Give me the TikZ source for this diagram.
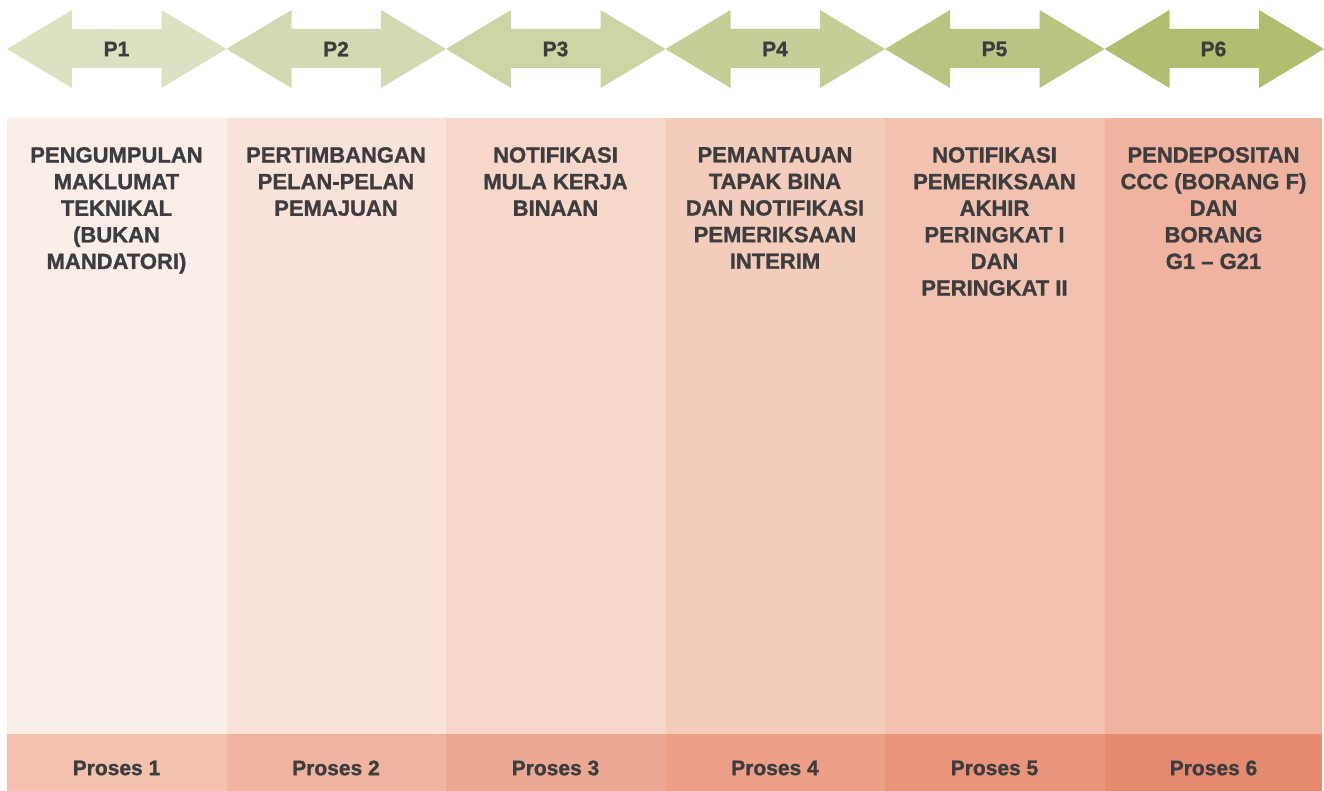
\documentclass[tikz,border=0pt]{standalone}
\usepackage{fontspec}
\setmainfont{Liberation Sans}[BoldFeatures={FakeBold=1.2}]
\usepackage{xcolor}
\usepackage{tikz}
\usetikzlibrary{positioning}
\pgfdeclarelayer{fill}
\pgfsetlayers{fill,main}

\definecolor{ink}{HTML}{3D3D40}
\definecolor{arrA}{HTML}{DDE0C1}
\definecolor{arrB}{HTML}{D3DAB1}
\definecolor{arrC}{HTML}{CAD5A3}
\definecolor{arrD}{HTML}{C2CF97}
\definecolor{arrE}{HTML}{B8C581}
\definecolor{arrF}{HTML}{B0BF6F}
\definecolor{colA}{HTML}{FAEEE8}
\definecolor{colB}{HTML}{F9E2D9}
\definecolor{colC}{HTML}{F7D7CA}
\definecolor{colD}{HTML}{F4CCBB}
\definecolor{colE}{HTML}{F2C1B0}
\definecolor{colF}{HTML}{F0B39F}
\definecolor{barA}{HTML}{F2C2AF}
\definecolor{barB}{HTML}{F0B3A0}
\definecolor{barC}{HTML}{EBA892}
\definecolor{barD}{HTML}{ED9F87}
\definecolor{barE}{HTML}{EA957B}
\definecolor{barF}{HTML}{E68A6F}

\tikzset{
  tag/.style={text=ink, inner sep=0pt, font=\fontsize{21}{25}\selectfont\bfseries},
  body/.style={text=ink, inner sep=0pt, anchor=north, align=center,
    font=\fontsize{22}{26.6}\selectfont\bfseries},
}

\begin{document}
\begin{tikzpicture}[x=1pt, y=-1pt]
  \useasboundingbox (0, 0) rectangle (1324, 791);
  \begin{pgfonlayer}{fill}
    % arrows
    \fill [arrA] (7, 49) -- (72, 10) -- (72, 29) -- (161.5, 29) -- (161.5, 10) -- (226.5, 49) -- (161.5, 88) -- (161.5, 68) -- (72, 68) -- (72, 88) -- cycle;
    \fill [arrB] (226.5, 49) -- (291.5, 10) -- (291.5, 29) -- (381, 29) -- (381, 10) -- (446, 49) -- (381, 88) -- (381, 68) -- (291.5, 68) -- (291.5, 88) -- cycle;
    \fill [arrC] (446, 49) -- (511, 10) -- (511, 29) -- (600.5, 29) -- (600.5, 10) -- (665.5, 49) -- (600.5, 88) -- (600.5, 68) -- (511, 68) -- (511, 88) -- cycle;
    \fill [arrD] (665.5, 49) -- (730.5, 10) -- (730.5, 29) -- (820, 29) -- (820, 10) -- (885, 49) -- (820, 88) -- (820, 68) -- (730.5, 68) -- (730.5, 88) -- cycle;
    \fill [arrE] (885, 49) -- (950, 10) -- (950, 29) -- (1039.5, 29) -- (1039.5, 10) -- (1104.5, 49) -- (1039.5, 88) -- (1039.5, 68) -- (950, 68) -- (950, 88) -- cycle;
    \fill [arrF] (1104.5, 49) -- (1169.5, 10) -- (1169.5, 29) -- (1259, 29) -- (1259, 10) -- (1324, 49) -- (1259, 88) -- (1259, 68) -- (1169.5, 68) -- (1169.5, 88) -- cycle;
    % columns
    \fill [colA] (7, 118) rectangle (226.5, 734);
    \fill [colB] (226.5, 118) rectangle (446, 734);
    \fill [colC] (446, 118) rectangle (665.5, 734);
    \fill [colD] (665.5, 118) rectangle (885, 734);
    \fill [colE] (885, 118) rectangle (1104.5, 734);
    \fill [colF] (1104.5, 118) rectangle (1322, 734);
    % bottom bar
    \fill [barA] (7, 734) rectangle (226.5, 791);
    \fill [barB] (226.5, 734) rectangle (446, 791);
    \fill [barC] (446, 734) rectangle (665.5, 791);
    \fill [barD] (665.5, 734) rectangle (885, 791);
    \fill [barE] (885, 734) rectangle (1104.5, 791);
    \fill [barF] (1104.5, 734) rectangle (1322, 791);
  \end{pgfonlayer}

  \node [tag] (p1) at (116.5, 49) {P1};
  \node [tag] (p2) at (336, 49) {P2};
  \node [tag] (p3) at (555.5, 49) {P3};
  \node [tag] (p4) at (775, 49) {P4};
  \node [tag] (p5) at (994.5, 49) {P5};
  \node [tag] (p6) at (1213.5, 49) {P6};

  \node [body] (t1) at (116.5, 147) {PENGUMPULAN\\MAKLUMAT\\TEKNIKAL\\(BUKAN\\MANDATORI)};
  \node [body] (t2) at (336, 147) {PERTIMBANGAN\\PELAN-PELAN\\PEMAJUAN};
  \node [body] (t3) at (555.5, 147) {NOTIFIKASI\\MULA KERJA\\BINAAN};
  \node [body] (t4) at (775, 147) {PEMANTAUAN\\TAPAK BINA\\DAN NOTIFIKASI\\PEMERIKSAAN\\INTERIM};
  \node [body] (t5) at (994.5, 147) {NOTIFIKASI\\PEMERIKSAAN\\AKHIR\\PERINGKAT I\\DAN\\PERINGKAT II};
  \node [body] (t6) at (1213.5, 147) {PENDEPOSITAN\\CCC (BORANG F)\\DAN\\BORANG\\G1 -- G21};

  \node [tag] (s1) at (116.5, 768) {Proses 1};
  \node [tag] (s2) at (336, 768) {Proses 2};
  \node [tag] (s3) at (555.5, 768) {Proses 3};
  \node [tag] (s4) at (775, 768) {Proses 4};
  \node [tag] (s5) at (994.5, 768) {Proses 5};
  \node [tag] (s6) at (1213.5, 768) {Proses 6};
\end{tikzpicture}
\end{document}
